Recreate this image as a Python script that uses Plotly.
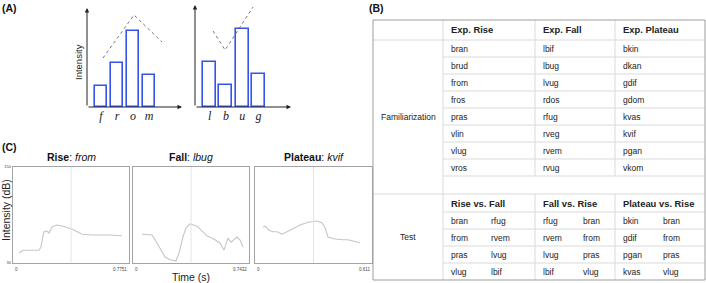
import plotly.graph_objects as go

W, H = 706, 283

# ---- panel A: schematic bar heights (arbitrary units, 0-102)
rise_letters = ["f", "r", "o", "m"]
rise_heights = [21, 44, 76, 32]
rise_contour_x = [1.125, 3.06, 4.81]
rise_contour_y = [49, 92, 65]

fall_letters = ["l", "b", "u", "g"]
fall_heights = [45, 22, 78, 33]
fall_contour_x = [1.21, 1.95, 3.67]
fall_contour_y = [76, 57, 100]

# ---- panel B: stimulus table
fam_header = ["Exp. Rise", "Exp. Fall", "Exp. Plateau"]
fam_rise = ["bran", "brud", "from", "fros", "pras", "vlin", "vlug", "vros"]
fam_fall = ["lbif", "lbug", "lvug", "rdos", "rfug", "rveg", "rvem", "rvug"]
fam_plateau = ["bkin", "dkan", "gdif", "gdom", "kvas", "kvif", "pgan", "vkom"]
test_header = ["Rise vs. Fall", "Fall vs. Rise", "Plateau vs. Rise"]
test_rise_fall = [("bran", "rfug"), ("from", "rvem"), ("pras", "lvug"), ("vlug", "lbif")]
test_fall_rise = [("rfug", "bran"), ("rvem", "from"), ("lvug", "pras"), ("lbif", "vlug")]
test_plateau_rise = [("bkin", "bran"), ("gdif", "from"), ("pgan", "pras"), ("kvas", "vlug")]

# ---- panel C: intensity contours (time s, dB)
from_t = [0.040, 0.067, 0.174, 0.187, 0.200, 0.207, 0.227, 0.241, 0.261, 0.294, 0.334,
          0.394, 0.461, 0.535, 0.648, 0.728]
from_db = [42.5, 46, 46, 50, 64, 69, 70, 67.5, 75, 77.5, 76, 72.5, 66, 65, 65, 64]

lbug_t = [0.058, 0.122, 0.154, 0.205, 0.237, 0.275, 0.295, 0.320, 0.340, 0.365, 0.410,
          0.474, 0.525, 0.557, 0.583, 0.608, 0.628, 0.647, 0.666, 0.685, 0.705]
lbug_db = [66, 65, 55, 37.5, 34, 32.5, 42.5, 62.5, 74, 79, 76, 64, 59, 55, 46, 61, 56,
           59, 62.5, 59, 50]

kvif_t = [0.042, 0.052, 0.073, 0.094, 0.115, 0.141, 0.183, 0.235, 0.277, 0.324, 0.350,
          0.366, 0.381, 0.418, 0.460, 0.486, 0.538, 0.548]
kvif_db = [75, 76, 71, 69, 69, 66, 71, 77.5, 81, 82.5, 80, 74, 62.5, 60, 59, 59, 56, 55]

durations = [0.7751, 0.7432, 0.611]
duration_labels = ["0.7751", "0.7432", "0.611"]
contour_names = ["Rise", "Fall", "Plateau"]
contour_words = ["from", "lbug", "kvif"]
db_range = [30, 150]


def X(px):
    return px / W


def Y(py):
    return 1 - py / H


SANS = "Liberation Sans"
BLUE = "#3453ee"

fig = go.Figure()
annotations = []
shapes = []


def label(px, py, text, size, color="#222", xanchor="center", angle=0, family=SANS):
    annotations.append(dict(xref="paper", yref="paper", x=X(px), y=Y(py), text=text,
                            xanchor=xanchor, yanchor="middle", textangle=angle,
                            showarrow=False, font=dict(family=family, size=size, color=color)))


# ================= panel A =================
bar_panels = [
    ("x", "y", rise_letters, rise_heights, rise_contour_x, rise_contour_y, 87, 182, [0.125, 6.06], 0.75, 8),
    ("x2", "y2", fall_letters, fall_heights, fall_contour_x, fall_contour_y, 195, 291, [0.1, 6.0], 0.8, 5),
]
for i, (xa, ya, letters, heights, cx, cy, left, right, xr, bw, top) in enumerate(bar_panels):
    pos = list(range(1, len(letters) + 1))
    fig.add_trace(go.Bar(
        x=pos, y=heights, width=bw, xaxis=xa, yaxis=ya,
        marker=dict(color="rgba(255,255,255,0)", line=dict(color=BLUE, width=1.6)),
        showlegend=False,
    ))
    fig.add_trace(go.Scatter(
        x=cx, y=cy, xaxis=xa, yaxis=ya, mode="lines",
        line=dict(color="#666666", width=0.9, dash="dot"), showlegend=False,
    ))
    n = "" if i == 0 else "2"
    fig.layout["xaxis" + n] = dict(
        domain=[X(left), X(right)], range=xr, showgrid=False, zeroline=False,
        showline=False, ticks="", tickvals=pos, automargin=False,
        ticktext=["<i>%s</i>" % s for s in letters],
        tickfont=dict(family="Liberation Serif", size=12, color="#222"),
        anchor=ya,
    )
    fig.layout["yaxis" + n] = dict(
        domain=[Y(107), Y(5)], range=[0, 102], showgrid=False, zeroline=False,
        showline=False, showticklabels=False, anchor=xa, automargin=False,
    )
    # axis arrows
    annotations.append(dict(xref="paper", yref="paper", x=X(right), y=Y(107), ax=-(right - left), ay=0,
                            text="", showarrow=True, arrowhead=2, arrowsize=0.9, arrowwidth=1,
                            arrowcolor="#222"))
    annotations.append(dict(xref="paper", yref="paper", x=X(left), y=Y(top), ax=0, ay=107 - top,
                            text="", showarrow=True, arrowhead=2, arrowsize=0.9, arrowwidth=1,
                            arrowcolor="#222"))

label(78, 62, "Intensity", 9.5, angle=-90)

# ================= panel C =================
c_frames = [(13, 129), (133, 249), (255, 372)]
curves = [(from_t, from_db), (lbug_t, lbug_db), (kvif_t, kvif_db)]
for k in range(3):
    n = str(k + 3)
    xa, ya = "x" + n, "y" + n
    left, right = c_frames[k]
    t, db = curves[k]
    fig.add_trace(go.Scatter(x=t, y=db, xaxis=xa, yaxis=ya, mode="lines",
                             line=dict(color="#c6c6c6", width=1.1), showlegend=False))
    fig.layout["xaxis" + n] = dict(
        domain=[X(left), X(right)], range=[0, durations[k]], showgrid=False, zeroline=False,
        showline=True, mirror=True, linecolor="#a4a4a4", linewidth=1.3, ticks="",
        showticklabels=False, anchor=ya, automargin=False,
    )
    fig.layout["yaxis" + n] = dict(
        domain=[Y(263), Y(167)], range=db_range, showgrid=False, zeroline=False,
        showline=True, mirror=True, linecolor="#a4a4a4", linewidth=1.3, ticks="",
        showticklabels=(k == 0), tickvals=db_range, ticktext=[str(v) for v in db_range],
        tickfont=dict(family=SANS, size=4, color="#444"), anchor=xa, automargin=False,
    )
    shapes.append(dict(type="line", xref=xa, yref=ya + " domain", x0=durations[k] / 2,
                       x1=durations[k] / 2, y0=0, y1=1, line=dict(color="#e4e4e4", width=1)))
    annotations.append(dict(xref=xa, yref="paper", x=0, y=Y(265), text="0", showarrow=False,
                            xanchor="left", yanchor="top", font=dict(family=SANS, size=4.5, color="#444")))
    annotations.append(dict(xref=xa, yref="paper", x=durations[k], y=Y(265), text=duration_labels[k],
                            showarrow=False, xanchor="right", yanchor="top",
                            font=dict(family=SANS, size=4.5, color="#444")))
    label((left + right) / 2, 157, "<b>%s</b>: <i>%s</i>" % (contour_names[k], contour_words[k]),
          10.5, color="#111")

label(6, 210, "Intensity (dB)", 10.5, angle=-90)
label(191, 277, "Time (s)", 10.5)

# ================= panel B: table =================
tl, tr, tt, tb = 373, 705, 20, 280
cols = [443, 535, 615]
head_bot = 40
row_h = 17
fam_lines = [head_bot + row_h * i for i in range(1, 9)]   # 57 ... 176
blank_bot = 194
test_lines = [212, 229, 246, 263]
INNER = "#dadada"


def hline(y, x0, x1, color=INNER):
    shapes.append(dict(type="line", xref="paper", yref="paper", x0=X(x0), x1=X(x1),
                       y0=Y(y), y1=Y(y), line=dict(color=color, width=1)))


def vline(x, y0, y1, color=INNER):
    shapes.append(dict(type="line", xref="paper", yref="paper", x0=X(x), x1=X(x),
                       y0=Y(y0), y1=Y(y1), line=dict(color=color, width=1)))


hline(head_bot, tl, tr)
for y in fam_lines:
    hline(y, cols[0], tr)
hline(blank_bot, tl, tr)
for y in test_lines:
    hline(y, cols[0], tr)
vline(cols[0], tt, tb)
for c in cols[1:]:
    vline(c, tt, fam_lines[-1])
    vline(c, blank_bot, tb)
shapes.append(dict(type="rect", xref="paper", yref="paper", x0=X(tl), x1=X(tr), y0=Y(tb), y1=Y(tt),
                   line=dict(color="#9c9c9c", width=1)))


def cell_text(px, py, s, bold=False, anchor="left"):
    label(px, py, "<b>%s</b>" % s if bold else s, 9.4 if bold else 8.5, xanchor=anchor)


pad = 6
second = 40
for j, h in enumerate(fam_header):
    cell_text(cols[j] + pad, (tt + head_bot) / 2, h, bold=True)
fam_cols = [fam_rise, fam_fall, fam_plateau]
for j, words in enumerate(fam_cols):
    for i, w in enumerate(words):
        cell_text(cols[j] + pad, head_bot + row_h * i + row_h / 2, w)
cell_text((tl + cols[0]) / 2, (head_bot + blank_bot) / 2, "Familiarization", anchor="center")

for j, h in enumerate(test_header):
    cell_text(cols[j] + pad, (blank_bot + test_lines[0]) / 2, h, bold=True)
test_cols = [test_rise_fall, test_fall_rise, test_plateau_rise]
row_edges = test_lines + [tb]
for j, pairs in enumerate(test_cols):
    for i, (a, b) in enumerate(pairs):
        yc = (row_edges[i] + row_edges[i + 1]) / 2
        cell_text(cols[j] + pad, yc, a)
        cell_text(cols[j] + pad + second, yc, b)
cell_text((tl + cols[0]) / 2, (blank_bot + tb) / 2, "Test", anchor="center")

# panel letters
for lbl, px, py in [("(A)", 0, 8), ("(B)", 367, 8), ("(C)", 0, 147)]:
    label(px, py, "<b>%s</b>" % lbl, 10.5, color="#111", xanchor="left")

fig.update_layout(
    width=W, height=H, margin=dict(l=0, r=0, t=0, b=0, pad=0, autoexpand=False),
    paper_bgcolor="white", plot_bgcolor="rgba(0,0,0,0)",
    annotations=annotations, shapes=shapes, showlegend=False, bargap=0,
)

fig.write_html("out.html", config={"displayModeBar": False},
               post_script="document.body.style.margin='0';")
